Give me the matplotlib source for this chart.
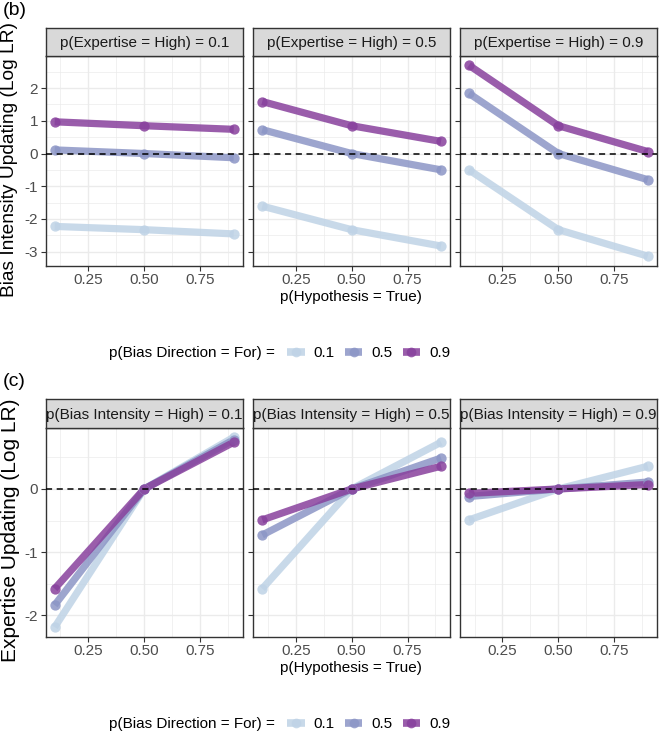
import matplotlib
matplotlib.use('Agg')
import matplotlib.pyplot as plt
from matplotlib import font_manager
from matplotlib.lines import Line2D
import numpy as np

# values
p_hyp = [0.1, 0.5, 0.9]
bias_dir = ['0.1', '0.5', '0.9']
colors = ['#bfd3e6', '#8c96c6', '#88419d']

expertise_labels = ['p(Expertise = High) = 0.1', 'p(Expertise = High) = 0.5', 'p(Expertise = High) = 0.9']
intensity_labels = ['p(Bias Intensity = High) = 0.1', 'p(Bias Intensity = High) = 0.5', 'p(Bias Intensity = High) = 0.9']

# panel (b): rows = bias direction 0.1 / 0.5 / 0.9
bias_upd_e1 = [[-2.23, -2.33, -2.46], [0.11, 0.0, -0.13], [0.97, 0.85, 0.74]]
bias_upd_e5 = [[-1.61, -2.33, -2.83], [0.73, 0.0, -0.50], [1.59, 0.85, 0.37]]
bias_upd_e9 = [[-0.50, -2.33, -3.14], [1.84, 0.0, -0.80], [2.70, 0.85, 0.06]]

# panel (c)
exp_upd_i1 = [[-2.19, 0.0, 0.82], [-1.84, 0.0, 0.78], [-1.58, 0.0, 0.74]]
exp_upd_i5 = [[-1.58, 0.0, 0.74], [-0.73, 0.0, 0.49], [-0.49, 0.0, 0.36]]
exp_upd_i9 = [[-0.49, 0.0, 0.36], [-0.12, 0.0, 0.11], [-0.07, 0.0, 0.07]]

names = {f.name for f in font_manager.fontManager.ttflist}
narrow = 'Liberation Sans Narrow' if 'Liberation Sans Narrow' in names else 'Liberation Sans'
fs = 13.3 if narrow == 'Liberation Sans Narrow' else 11
plt.rcParams['font.family'] = [narrow, 'DejaVu Sans']

W, H = 660, 736
fig = plt.figure(figsize=(6.6, 7.36), dpi=100)
renderer = fig.canvas.get_renderer()


def px_axes(x0, y_top, x1, y_bot):
    return fig.add_axes([x0 / W, 1 - y_bot / H, (x1 - x0) / W, (y_bot - y_top) / H])


panel_x = [(45.7, 242.7), (253.3, 450.0), (460.0, 656.7)]


def expand(vals):
    lo, hi = np.min(vals), np.max(vals)
    pad = (hi - lo) * 0.05
    return lo - pad, hi + pad


def fit_vertical(t, target_px):
    # scale the rotated title so its length matches the reference
    h = t.get_window_extent(renderer).height
    t.set_fontsize(t.get_fontsize() * target_px / h)


def draw_block(datasets, strips, strip_top, strip_bot, plot_bot, yticks, yminor,
               ylabel, ylabel_len, tag):
    ylim = expand(np.array(datasets))
    for i, (data, strip) in enumerate(zip(datasets, strips)):
        x0, x1 = panel_x[i]
        ax = px_axes(x0, strip_bot, x1, plot_bot)
        ax.set_xlim(0.06, 0.94)
        ax.set_ylim(*ylim)
        ax.set_xticks([0.25, 0.5, 0.75])
        ax.set_xticklabels(['0.25', '0.50', '0.75'])
        ax.set_xticks([0.125, 0.375, 0.625, 0.875], minor=True)
        ax.set_yticks(yticks)
        ax.set_yticks(yminor, minor=True)
        if i == 0:
            ax.set_yticklabels([str(t) for t in yticks])
        else:
            ax.set_yticklabels([])
            ax.tick_params(axis='y', length=0)
        ax.grid(which='major', color='#ebebeb', lw=1.0)
        ax.grid(which='minor', color='#ebebeb', lw=0.5)
        ax.set_axisbelow(True)
        ax.tick_params(which='minor', length=0)
        ax.tick_params(which='major', color='#333333', length=3.5, width=0.8,
                       labelsize=fs, labelcolor='#4d4d4d', pad=2)
        for s in ax.spines.values():
            s.set_color('#333333')
            s.set_linewidth(1.0)
        for j, ys in enumerate(data):
            ax.plot(p_hyp, ys, color=colors[j], lw=5.2, alpha=0.85,
                    solid_capstyle='butt', zorder=3)
            ax.scatter(p_hyp, ys, s=55, color=colors[j], alpha=0.85,
                       linewidths=0, zorder=4)
        ax.axhline(0, color='black', lw=1.1, ls=(0, (4, 3)), zorder=5)
        # strip
        sax = px_axes(x0, strip_top, x1, strip_bot)
        sax.set_xticks([])
        sax.set_yticks([])
        sax.set_facecolor('#d9d9d9')
        for s in sax.spines.values():
            s.set_color('#333333')
            s.set_linewidth(1.0)
        sax.text(0.5, 0.45, strip, ha='center', va='center', fontsize=fs,
                 color='#1a1a1a', transform=sax.transAxes)
    ymid = 1 - ((strip_bot + plot_bot) / 2 - 1.5) / H
    yt = fig.text(1 / W, ymid, ylabel, rotation=90, ha='left', va='center',
                  fontsize=13, family=['Liberation Sans'])
    fit_vertical(yt, ylabel_len)
    fig.text(3 / W, 1 - (strip_top - 18) / H, tag, ha='left', va='center',
             fontsize=14, family=['Liberation Sans'])
    fig.text(351 / W, 1 - (plot_bot + 31) / H, 'p(Hypothesis = True)',
             ha='center', va='center', fontsize=fs)
    # legend
    ly = 1 - (plot_bot + 87.5) / H
    fig.text(275 / W, ly, 'p(Bias Direction = For) =', ha='right', va='center', fontsize=fs)
    handles = [Line2D([0], [0], color=c, lw=5.5, alpha=0.85, marker='o', markersize=7,
                      markeredgewidth=0, solid_capstyle='butt') for c in colors]
    fig.legend(handles, bias_dir, loc='center left', bbox_to_anchor=(287 / W, ly),
               ncol=3, frameon=False, fontsize=fs, handlelength=1.15,
               handletextpad=0.6, columnspacing=0.65, borderpad=0, borderaxespad=0)


draw_block([bias_upd_e1, bias_upd_e5, bias_upd_e9], expertise_labels,
           28.3, 55.7, 265.7, [-3, -2, -1, 0, 1, 2],
           [-2.5, -1.5, -0.5, 0.5, 1.5, 2.5],
           'Bias Intensity Updating (Log LR)', 276, '(b)')
draw_block([exp_upd_i1, exp_upd_i5, exp_upd_i9], intensity_labels,
           399.0, 427.7, 636.7, [-2, -1, 0],
           [-1.5, -0.5, 0.5],
           'Expertise Updating (Log LR)', 264, '(c)')

fig.savefig('out.png', dpi=100)
